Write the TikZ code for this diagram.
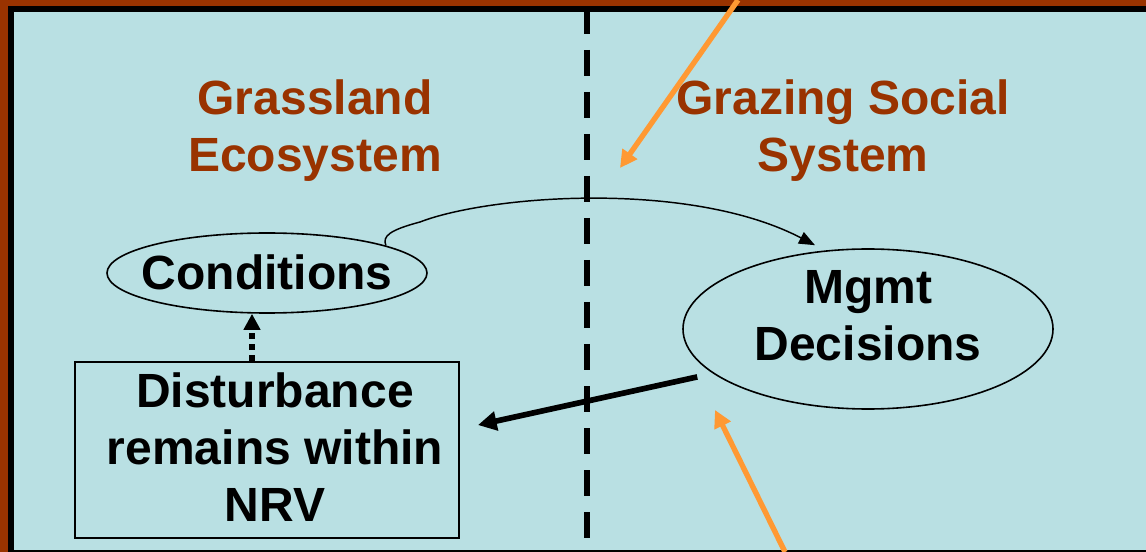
\documentclass[tikz,border=0pt]{standalone}
\usepackage{fontspec}
\setmainfont{Liberation Sans}
\usetikzlibrary{shapes.geometric,arrows.meta}
\definecolor{paneblue}{RGB}{185,224,227}
\definecolor{framebrown}{RGB}{153,51,0}
\definecolor{pointorange}{RGB}{255,153,51}
\tikzset{
  bigtext/.style={font=\fontsize{36}{42.75}\selectfont\bfseries, align=center, inner sep=0pt},
  titletext/.style={bigtext, text=framebrown},
  oval/.style={draw, ellipse, line width=1.2pt, inner sep=0pt},
  pointer/.style={draw=pointorange, line width=4pt, -{Triangle[length=13pt,width=13pt]}},
}
\begin{document}
\begin{tikzpicture}[x=0.75pt,y=0.75pt,yscale=-1,xscale=1]
\useasboundingbox (0,0) rectangle (1146,552);

%Shape: Frame
\fill[framebrown] (0,0) rectangle (1146,552);
\fill[black] (8,6) rectangle (1146,552);
\fill[paneblue] (14,12) rectangle (1146,550);

%Straight Lines: divider
\draw[line width=4.5pt, dash pattern=on 19.5pt off 12pt] (587,8) -- (587,550);

% Text Node
\node[titletext] (grasstitle) at (315,131) {Grassland\\Ecosystem};
% Text Node
\node[titletext] (socialtitle) at (843,131) {Grazing Social\\System};

%Shape: Ellipse
\node[oval, minimum width=240pt, minimum height=60pt] (cond) at (267,273) {};
% Text Node
\node[bigtext] (condtext) at ([yshift=-0.75pt]cond.center) {Conditions};
%Shape: Ellipse
\node[oval, minimum width=277.5pt, minimum height=120pt] (mgmt) at (868,329) {};
% Text Node
\node[bigtext] (mgmttext) at ([yshift=-9.75pt]mgmt.center) {Mgmt\\Decisions};
%Shape: Rectangle
\node[draw, line width=1.5pt, minimum width=288pt, minimum height=132pt, inner sep=0pt] (dist) at (267,450) {};
% Text Node
\node[bigtext] (disttext) at ([xshift=6pt,yshift=-2pt]dist.center) {Disturbance\\remains within\\NRV};

%Curve Lines
\draw[line width=1.1pt, -{Triangle[length=12pt,width=9.5pt]}] (cond.13) .. controls (382,236) and (390,230) .. (420,222)
  .. controls (490,195) and (690,180) .. ([xshift=-39.75pt,yshift=-2.25pt]mgmt.north);
%Straight Lines
\draw[line width=4.25pt, shorten <=12pt, shorten >=13.8pt, -{Triangle[length=14pt,width=14pt]}] (mgmt.196) -- ([yshift=-15.75pt]dist.east);
%Straight Lines
\draw[line width=4pt, dash pattern=on 4.5pt off 3.75pt, -{Triangle[length=12pt,width=12pt]}] ([xshift=-11.25pt]dist.north) -- ([xshift=-11.25pt]cond.south);

%Straight Lines: orange pointers
\coordinate (toptail) at (738,0);
\coordinate (toptip) at (620,168);
\coordinate (bottail) at (785,552);
\coordinate (bottip) at (715,410);
\draw[pointer] (toptail) -- (toptip);
\draw[pointer] (bottail) -- (bottip);
\end{tikzpicture}
\end{document}
